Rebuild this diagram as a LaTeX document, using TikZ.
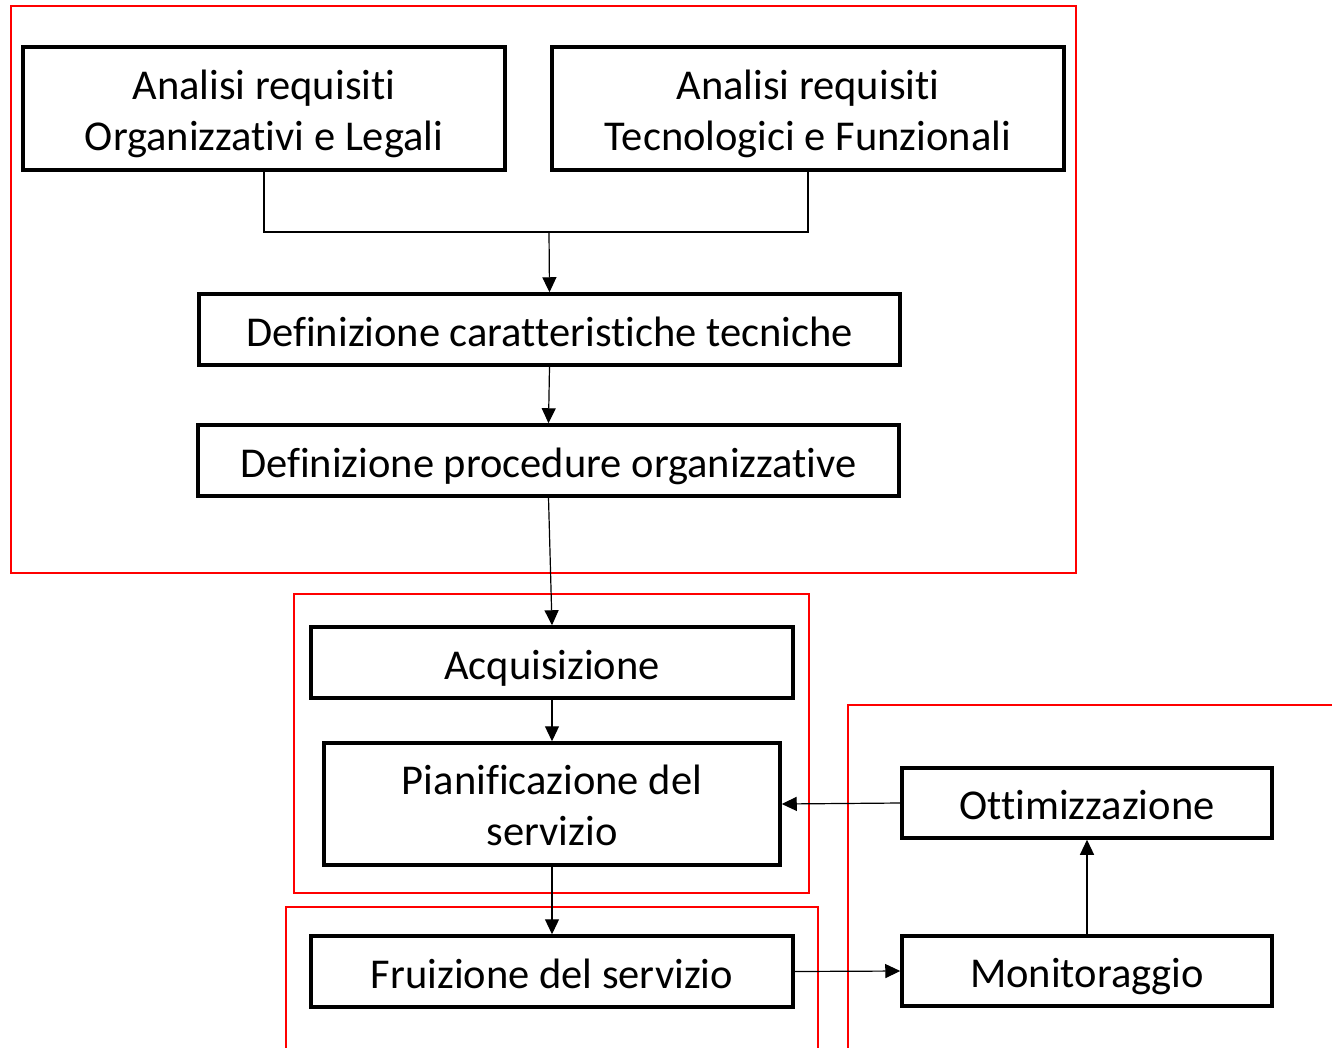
\documentclass[tikz,border=0pt]{standalone}
\usepackage{fontspec}
\setmainfont[Ligatures=CommonOff]{Carlito}
\usetikzlibrary{arrows.meta}
\newcommand{\twolines}[2]{\begin{tabular}[b]{@{}c@{}}#1\\#2\end{tabular}}
\begin{document}
\begin{tikzpicture}[x=1pt,y=-1pt,
  box/.style={draw=black, line width=3.5pt, inner sep=0pt,
    font=\fontsize{42.5}{51}\selectfont, text height=41pt, text depth=8pt},
  twobox/.style={box, text height=86pt, text depth=3pt},
  frame/.style={draw=red, line width=2pt},
  conn/.style={draw=black, line width=1.2pt},
  arr/.style={conn, -{Triangle[length=15pt,width=14pt]}}]
\useasboundingbox (0,0) rectangle (1332,1047);
\draw[frame] (11,6) rectangle (1076,573);
\draw[frame] (294,594) rectangle (809,893);
\draw[frame] (286,1060) -- (286,907) -- (818,907) -- (818,1060);
\draw[frame] (848,1060) -- (848,705) -- (1340,705);
\node[twobox, minimum width=482pt, minimum height=123pt] (org) at (264,108.5) {\twolines{Analisi requisiti}{Organizzativi e Legali}};
\node[twobox, minimum width=512pt, minimum height=123pt] (tec) at (808,108.5) {\twolines{Analisi requisiti}{Tecnologici e Funzionali}};
\node[box, minimum width=701pt, minimum height=71pt] (car) at (549.5,329.5) {Definizione caratteristiche tecniche};
\node[box, minimum width=701pt, minimum height=71pt] (pro) at (548.5,460.5) {Definizione procedure organizzative};
\node[box, minimum width=482pt, minimum height=71pt] (acq) at (552,662.5) {Acquisizione};
\node[twobox, minimum width=456pt, minimum height=122pt] (pia) at (552,804) {\twolines{Pianificazione del}{servizio}};
\node[box, minimum width=482pt, minimum height=71pt] (fru) at (552,971.5) {Fruizione del servizio};
\node[box, minimum width=370pt, minimum height=70pt] (ott) at (1087,803) {Ottimizzazione};
\node[box, minimum width=370pt, minimum height=70pt] (mon) at (1087,971) {Monitoraggio};
\coordinate (j) at (549,232);
\draw[conn] (org.south) |- (j) -| (tec.south);
\draw[arr] (j) -- (car.north);
\draw[arr] (car.south) -- (pro.north);
\draw[arr] (pro.south) -- (acq.north);
\draw[arr] (acq.south) -- (pia.north);
\draw[arr] (pia.south) -- (fru.north);
\draw[arr] (fru.east) -- (mon.west);
\draw[arr] (mon.north) -- (ott.south);
\draw[arr] (ott.west) -- (pia.east);
\end{tikzpicture}
\end{document}
